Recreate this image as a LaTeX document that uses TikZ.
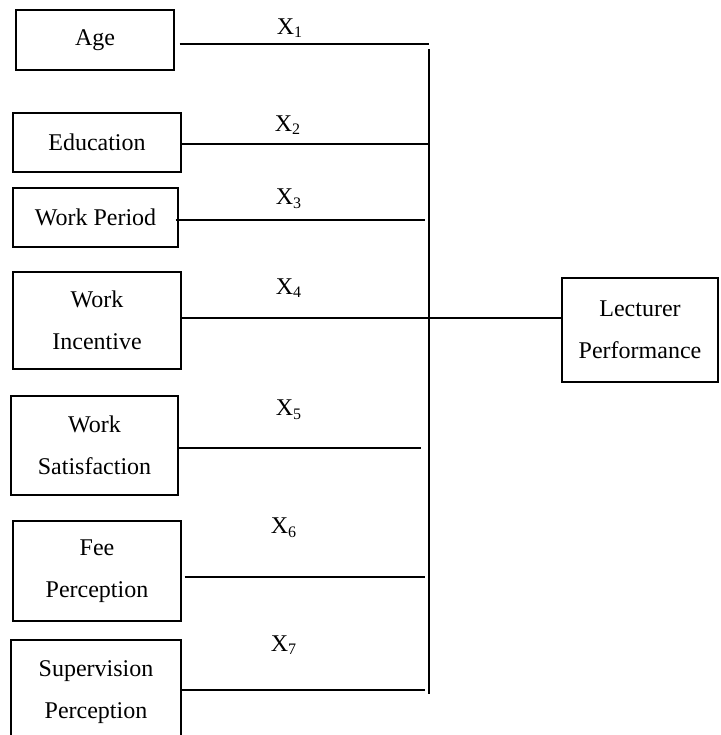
\documentclass[tikz,border=0pt]{standalone}
\usepackage{fontspec}
\setmainfont{Liberation Serif}
\usepackage{tikz}
\usetikzlibrary{positioning}

\begin{document}
\begin{tikzpicture}[
        x=0.5pt, y=-0.5pt,
        font=\fontsize{12}{21}\selectfont,
        box/.style={draw, line width=0.6pt, align=center, inner sep=0pt},
        line/.style={draw, line width=0.6pt},
        lbl/.style={inner sep=0pt}
    ]
    \useasboundingbox (0,0) rectangle (720,735);
    % independent variables
    \node[box, minimum width=79pt, minimum height=30pt] (age) at (95,40) {Age};
    \node[box, minimum width=84pt, minimum height=29.5pt] (edu) at (97,142.5) {Education};
    \node[box, minimum width=82.5pt, minimum height=29.5pt] (wperiod) at (95.5,217.5) {Work Period};
    \node[box, minimum width=84pt, minimum height=48.5pt] (wincent) at (97,320.5) {Work\\Incentive};
    \node[box, minimum width=83.5pt, minimum height=49.5pt] (wsatis) at (94.5,445.5) {Work\\Satisfaction};
    \node[box, minimum width=84pt, minimum height=50pt] (fee) at (97,571) {Fee\\Perception};
    \node[box, minimum width=85pt, minimum height=52.5pt] (superv) at (96,692.5) {Supervision\\Perception};
    % dependent variable
    \node[box, minimum width=78pt, minimum height=52pt] (lect) at (640,330) {Lecturer\\Performance};
    % junctions on the collector line
    \coordinate (vtop) at (429,49);
    \coordinate (vbot) at (429,694);
    \coordinate (j1) at (429,44);
    \coordinate (j2) at (429,144);
    \coordinate (j3) at (425,220);
    \coordinate (j4) at (429,318);
    \coordinate (j5) at (421,448);
    \coordinate (j6) at (425,577);
    \coordinate (j7) at (425,690);
    \draw[line] (vtop) -- (vbot);
    \draw[line, shorten <=2.5pt] (age.east |- j1) -- (j1);
    \draw[line] (edu.east |- j2) -- (j2);
    \draw[line, shorten <=-1.5pt] (wperiod.east |- j3) -- (j3);
    \draw[line] (wincent.east |- j4) -- (lect.west |- j4);
    \draw[line] (wsatis.east |- j5) -- (j5);
    \draw[line, shorten <=1.5pt] (fee.east |- j6) -- (j6);
    \draw[line] (superv.east |- j7) -- (j7);
    % labels
    \node[lbl] (x1) at (290,28) {X\textsubscript{1}};
    \node[lbl] (x2) at (288,125) {X\textsubscript{2}};
    \node[lbl] (x3) at (289,199) {X\textsubscript{3}};
    \node[lbl] (x4) at (289,288) {X\textsubscript{4}};
    \node[lbl] (x5) at (289,410) {X\textsubscript{5}};
    \node[lbl] (x6) at (284,528) {X\textsubscript{6}};
    \node[lbl] (x7) at (284,645) {X\textsubscript{7}};
\end{tikzpicture}
\end{document}
